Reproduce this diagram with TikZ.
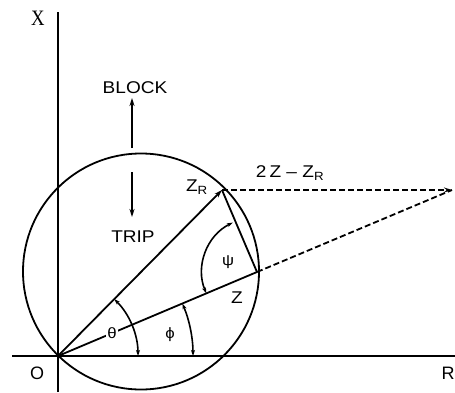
\documentclass[tikz,border=0pt]{standalone}
\usepackage{fontspec}
\setmainfont{Liberation Sans}
\newfontfamily\serifx{Liberation Serif}
\usetikzlibrary{arrows.meta,calc}
\begin{document}
\begin{tikzpicture}[x=1pt,y=1pt,
  lbl/.style={inner sep=0pt,font=\fontsize{17}{17}\selectfont,xscale=1.12},
  axis/.style={line width=2.2pt},
  ln/.style={line width=1.8pt},
  dsh/.style={line width=1.8pt,dash pattern=on 6pt off 3pt},
  tip/.style={-{Stealth[length=8pt,width=5pt]}},
  angarrow/.style={line width=1.6pt,{Stealth[length=6pt,width=4pt]}-{Stealth[length=6pt,width=4pt]}}]
\useasboundingbox (0,0) rectangle (455,392);
% points
\coordinate (O) at (58,36);
\coordinate (ZR) at (222,202);
\coordinate (Z) at (257,120);
\coordinate (F) at (452,202);
\coordinate (C) at (141,120.5);
\coordinate (xtop) at (58,380);
\coordinate (xbot) at (58,0);
\coordinate (rl) at (12,36);
\coordinate (rr) at (455,36);
% axes
\draw[axis] (xbot) -- (xtop);
\draw[axis] (rl) -- (rr);
% circle
\draw[ln] (C) circle (118);
% vectors
\draw[ln,tip] (O) -- (ZR);
\draw[ln] (O) -- (Z);
\draw[ln] (ZR) -- (Z);
\draw[dsh] (Z) -- (F);
\draw[dsh,tip] (ZR) -- (F);
% angle arcs
\draw[angarrow] ($(O)+(0:80)$) arc[start angle=0,end angle=45.35,radius=80];
\draw[angarrow] ($(O)+(0:135)$) arc[start angle=0,end angle=22.88,radius=135];
\draw[angarrow] ($(Z)+(202.88:55)$) arc[start angle=202.88,end angle=116,radius=55];
% labels
\node[lbl,fill=white,inner sep=1.5pt,font=\fontsize{15}{15}\selectfont] (theta) at ($(O)+(22.88:58.6)$) {θ};
\node[lbl,font=\fontsize{15}{15}\selectfont] (phi) at (170,57) {ϕ};
\node[lbl,font=\fontsize{15}{15}\selectfont] (psi) at (228,130) {ψ};
\node[lbl] (zl) at (237,94) {Z};
\node[lbl] (zrl) at (197,205) {Z\textsubscript{R}};
\node[lbl] (diff) at (290,219) {2\,Z -- Z\textsubscript{R}};
\node[lbl] (block) at (135,304) {BLOCK};
\node[lbl] (trip) at (133,155) {TRIP};
\node[inner sep=0pt,font=\serifx\fontsize{22}{22}\selectfont,xscale=0.85] (xl) at (38,374) {X};
\node[inner sep=0pt,font=\fontsize{18}{18}\selectfont] (ol) at (37,19) {O};
\node[inner sep=0pt,font=\fontsize{18}{18}\selectfont] (rlab) at (448,19) {R};
% block / trip arrows
\coordinate (b1) at (132,244);
\coordinate (b2) at (132,294);
\coordinate (t1) at (132,220);
\coordinate (t2) at (132,175);
\draw[ln,tip] (b1) -- (b2);
\draw[ln,tip] (t1) -- (t2);
\end{tikzpicture}
\end{document}
